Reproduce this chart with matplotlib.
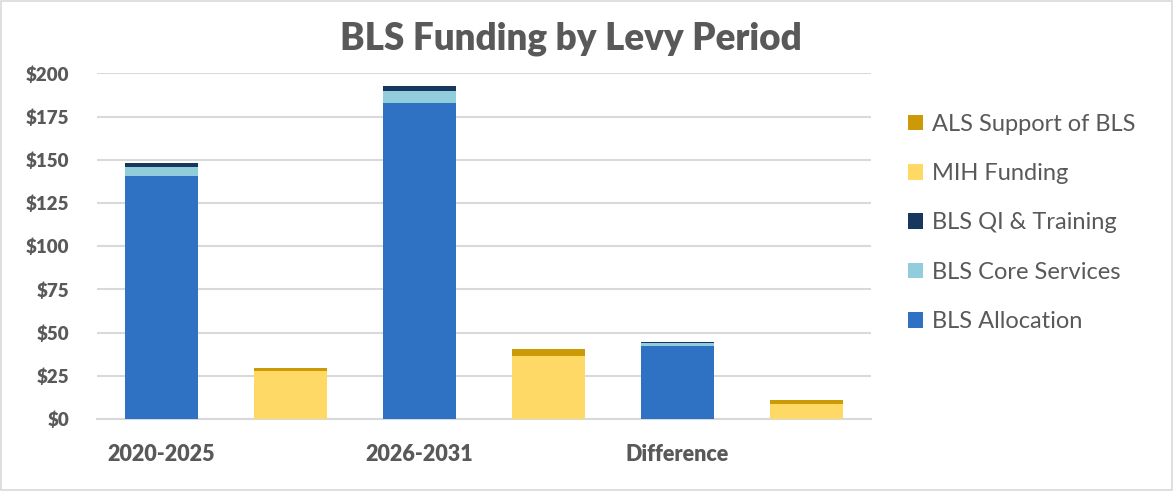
import matplotlib
matplotlib.use("Agg")
import matplotlib.pyplot as plt
from matplotlib.patches import Patch, Rectangle

plt.rcParams['font.family'] = ['Lato', 'DejaVu Sans']

# Data
periods = ["2020-2025", "2026-2031", "Difference"]
bls_allocation = [140.6, 182.6, 42.0]
bls_core = [5.3, 7.2, 1.9]
bls_qi = [2.2, 3.0, 0.8]
mih_funding = [27.7, 36.4, 8.7]
als_support = [1.8, 3.9, 2.1]
yticks = [0, 25, 50, 75, 100, 125, 150, 175, 200]

colors = {
    "BLS Allocation": "#2F72C3",
    "BLS Core Services": "#92CDDC",
    "BLS QI & Training": "#17375E",
    "MIH Funding": "#FFD966",
    "ALS Support of BLS": "#CC9A06",
}

fig = plt.figure(figsize=(11.74, 4.91), dpi=100)
ax = fig.add_axes([0.0826, 0.1468, 0.742 - 0.0826, 0.8507 - 0.1468])

w = 0.57
bls_x = [0, 2, 4]
mih_x = [1, 3, 5]
ax.bar(bls_x, bls_allocation, w, color=colors["BLS Allocation"], zorder=3)
ax.bar(bls_x, bls_core, w, bottom=bls_allocation, color=colors["BLS Core Services"], zorder=3)
b3 = [a + c for a, c in zip(bls_allocation, bls_core)]
ax.bar(bls_x, bls_qi, w, bottom=b3, color=colors["BLS QI & Training"], zorder=3)
ax.bar(mih_x, mih_funding, w, color=colors["MIH Funding"], zorder=3)
ax.bar(mih_x, als_support, w, bottom=mih_funding, color=colors["ALS Support of BLS"], zorder=3)

ax.set_xlim(-0.5, 5.5)
ax.set_ylim(0, 200)
ax.set_yticks(yticks)
ax.set_yticklabels([f"${v}" for v in yticks], fontsize=13.5, fontweight='heavy', color='#595959')
ax.set_xticks(bls_x)
ax.set_xticklabels(periods, fontsize=15.5, fontweight='heavy', color='#595959')
ax.tick_params(axis='both', length=0)
ax.tick_params(axis='y', pad=20)
ax.tick_params(axis='x', pad=18)
ax.grid(axis='y', color='#D9D9D9', linewidth=1.5, zorder=0)
for s in ['top', 'right', 'left']:
    ax.spines[s].set_visible(False)
ax.spines['bottom'].set_color('#D9D9D9')
ax.spines['bottom'].set_linewidth(1.5)

fig.text(0.486, 0.922, "BLS Funding by Levy Period", ha='center', va='center',
         fontsize=26.5, fontweight='heavy', color='#595959')

order = ["ALS Support of BLS", "MIH Funding", "BLS QI & Training", "BLS Core Services", "BLS Allocation"]
handles = [Patch(facecolor=colors[k], edgecolor='none') for k in order]
leg = fig.legend(handles, order, loc='center left', bbox_to_anchor=(0.755, 0.546),
                 frameon=False, fontsize=17, labelcolor='#595959',
                 handlelength=0.65, handleheight=0.65, handletextpad=0.4, labelspacing=1.2)

fig.patches.append(Rectangle((0.001, 0.002), 0.997, 0.995, transform=fig.transFigure,
                             fill=False, edgecolor='#D9D9D9', linewidth=1.2))

fig.savefig("out.png", dpi=100)
